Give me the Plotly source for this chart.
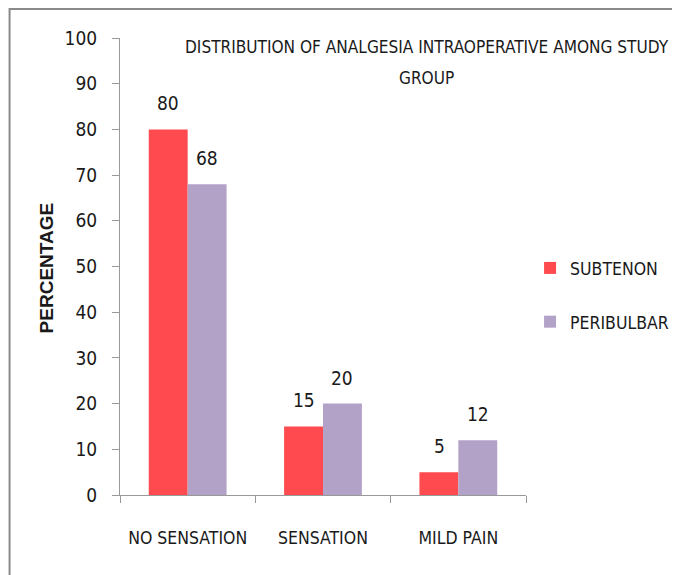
import plotly.graph_objects as go

# data
categories = ['NO SENSATION', 'SENSATION', 'MILD PAIN']
subtenon = [80, 15, 5]
peribulbar = [68, 20, 12]
y_ticks = list(range(0, 101, 10))
title_lines = ['DISTRIBUTION OF ANALGESIA INTRAOPERATIVE AMONG STUDY', 'GROUP']

FONT = "Liberation Sans Narrow, DejaVu Sans Condensed, sans-serif"
TXT = '#1a1a1a'
RED = '#FF4B4F'
PURPLE = '#B3A2C8'

fig = go.Figure()
fig.add_trace(go.Bar(x=categories, y=subtenon, name='SUBTENON',
                     marker=dict(color=RED, line=dict(width=0)), legendgroup='a'))
fig.add_trace(go.Bar(x=categories, y=peribulbar, name='PERIBULBAR',
                     marker=dict(color=PURPLE, line=dict(width=0)), legendgroup='b'))

# value labels above the bars (sit a bit higher than plotly's outside text)
for vals, shift in [(subtenon, -19.3), (peribulbar, 19.3)]:
    for cat, v in zip(categories, vals):
        fig.add_annotation(x=cat, y=v, text=str(v), showarrow=False,
                           xshift=shift, yshift=26, yanchor='middle',
                           font=dict(size=19, family=FONT, color=TXT))

# title as two lines (wider line spacing than plotly's title)
for txt, ypos in zip(title_lines, [0.980, 0.9125]):
    fig.add_annotation(xref='paper', yref='paper', x=0.755, y=ypos, text=txt,
                       showarrow=False, xanchor='center', yanchor='middle',
                       font=dict(size=17.1, family=FONT, color=TXT))

# y axis title
fig.add_annotation(xref='paper', yref='paper', x=-0.181, y=0.497, text='<b>PERCENTAGE</b>',
                   showarrow=False, textangle=-90, xanchor='center', yanchor='middle',
                   font=dict(size=19, family='Liberation Sans, Arial, sans-serif', color=TXT))

# outer frame of the original chart image
fig.add_shape(type='rect', xref='paper', yref='paper',
              x0=-0.272, x1=1.6, y0=-0.4, y1=1.0635,
              line=dict(color='#8a8a8a', width=2), fillcolor='rgba(0,0,0,0)',
              layer='below')

fig.update_layout(
    width=680, height=575,
    margin=dict(l=112, r=162, t=30, b=88, autoexpand=False),
    paper_bgcolor='white', plot_bgcolor='white',
    barmode='group', bargap=0.425, bargroupgap=0,
    font=dict(family=FONT, color=TXT, size=17),
    legend=dict(x=1.01, y=0.536, xanchor='left', yanchor='top',
                traceorder='grouped', tracegroupgap=28,
                font=dict(size=17.5, family=FONT, color=TXT),
                itemwidth=30),
    showlegend=True,
)
fig.update_yaxes(
    range=[0, 100], tickvals=y_ticks, showgrid=False, zeroline=False,
    showline=True, linecolor='#999999', linewidth=1,
    ticks='outside', ticklen=7, tickcolor='#999999', ticklabelstandoff=11,
    tickfont=dict(size=19, family=FONT, color=TXT)
)
fig.update_xaxes(
    showline=True, linecolor='#999999', linewidth=1,
    ticks='outside', ticklen=7, tickcolor='#999999', tickson='boundaries',
    ticklabelstandoff=27,
    tickfont=dict(size=17.5, family=FONT, color=TXT)
)

fig.write_html("out.html")
